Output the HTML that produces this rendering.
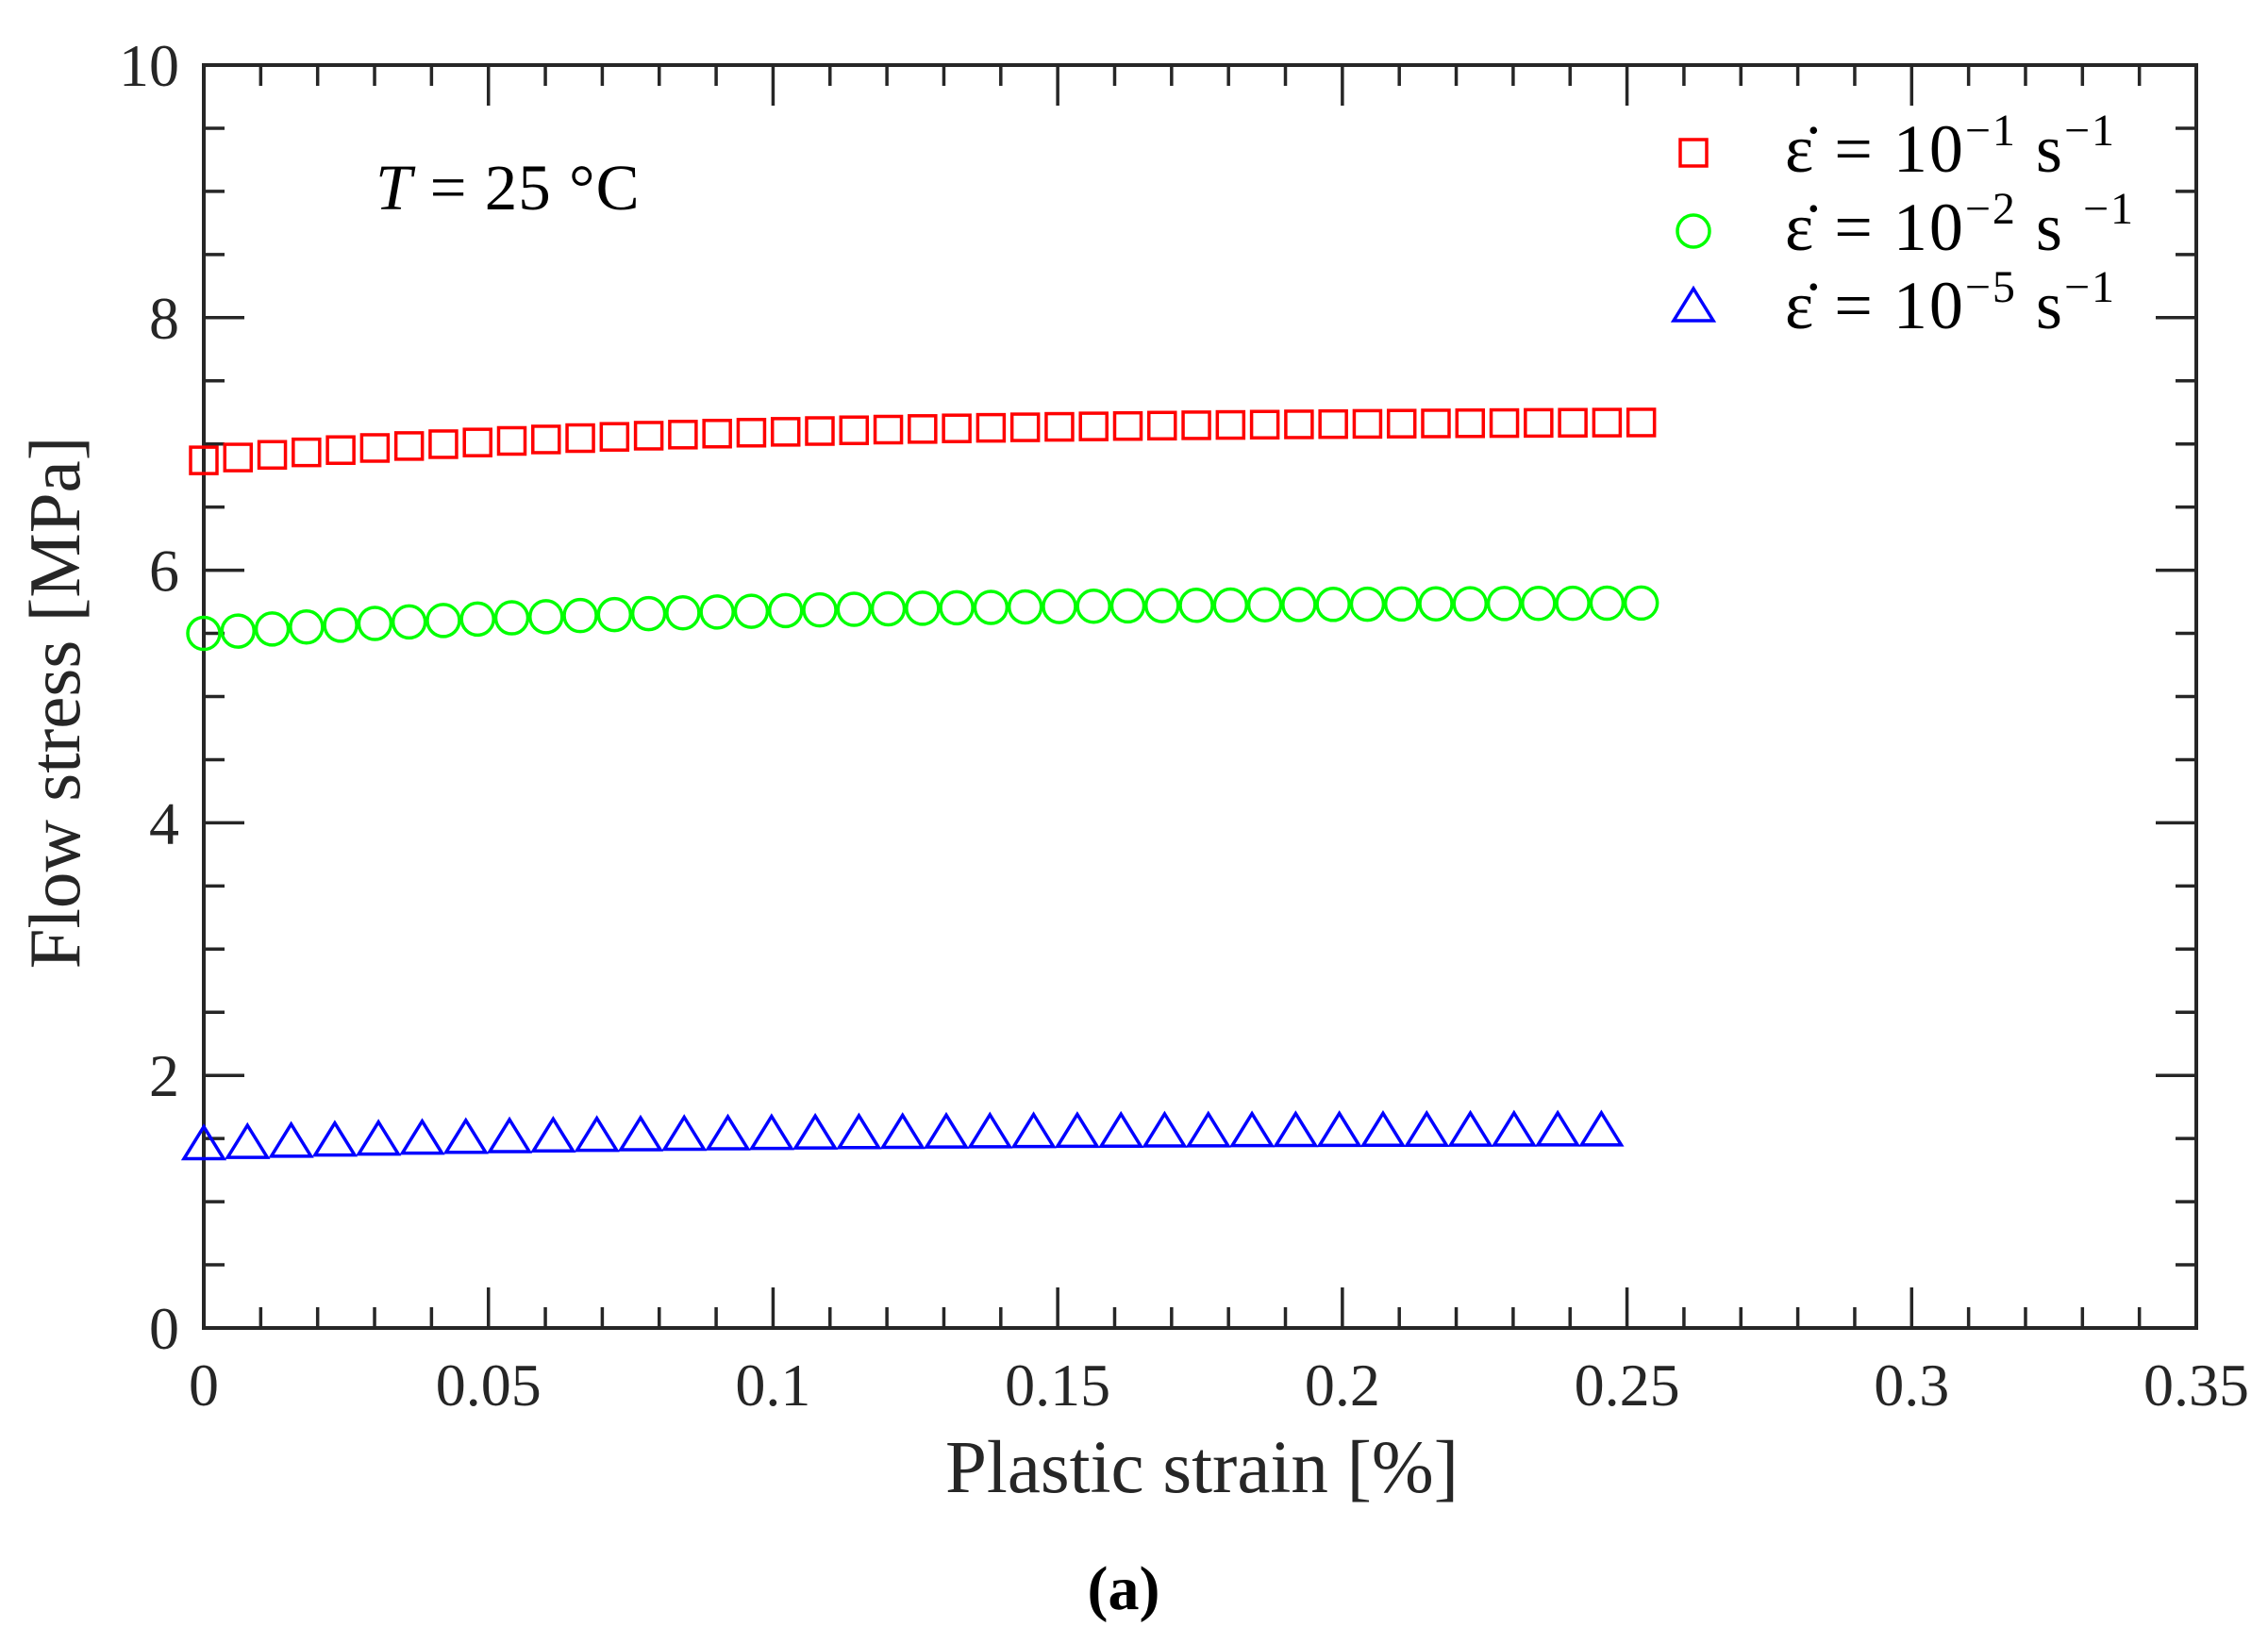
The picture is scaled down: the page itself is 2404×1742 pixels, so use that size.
<!DOCTYPE html>
<html><head><meta charset="utf-8"><style>
html,body{margin:0;padding:0;background:#fff;}
svg{display:block;}
text{font-family:"Liberation Serif",serif;fill:#262626;}
</style></head><body>
<svg id="s" width="2404" height="1742" xmlns="http://www.w3.org/2000/svg">
<g id="g"></g>
<text transform="translate(84 745) rotate(-90)" font-size="77" text-anchor="middle">Flow stress [MPa]</text>
<text x="1274" y="1582" font-size="79" text-anchor="middle">Plastic strain [%]</text>
<text x="1191" y="1706" font-size="66" font-weight="bold" text-anchor="middle" style="fill:#000">(a)</text>
<text x="398" y="222" font-size="69" letter-spacing="1" style="fill:#000"><tspan font-style="italic">T</tspan> = 25 °C</text>
<g font-size="72" style="fill:#000">
<text x="1892" y="182" style="fill:#000" letter-spacing="2">ε̇ = 10<tspan dy="-28" font-size="48">−1</tspan><tspan dy="28"> s</tspan><tspan dy="-28" font-size="48">−1</tspan></text>
<text x="1892" y="265" style="fill:#000" letter-spacing="2">ε̇ = 10<tspan dy="-28" font-size="48">−2</tspan><tspan dy="28"> s </tspan><tspan dy="-28" font-size="48">−1</tspan></text>
<text x="1892" y="348" style="fill:#000" letter-spacing="2">ε̇ = 10<tspan dy="-28" font-size="48">−5</tspan><tspan dy="28"> s</tspan><tspan dy="-28" font-size="48">−1</tspan></text>
</g>
<rect x="1781" y="148" width="28" height="28" fill="none" stroke="#f00" stroke-width="3.5"/>
<ellipse cx="1795" cy="245" rx="17" ry="17" fill="none" stroke="#0f0" stroke-width="3.5"/>
<polygon points="1795,306 1816,340 1774,340" fill="none" stroke="#00f" stroke-width="3.5"/>
</svg>
<script>
var L=216,R=2328,T=69,B=1408;
var X=function(v){return L+(R-L)*v/0.35},Y=function(v){return B-(B-T)*v/10};
var h='';
h+='<rect x="'+L+'" y="'+T+'" width="'+(R-L)+'" height="'+(B-T)+'" fill="none" stroke="#262626" stroke-width="4"/>';
for(var i=0;i<=35;i++){var x=X(i*0.01),len=(i%5==0)?43:22;
 h+='<line x1="'+x+'" y1="'+B+'" x2="'+x+'" y2="'+(B-len)+'" stroke="#262626" stroke-width="3.5"/>';
 h+='<line x1="'+x+'" y1="'+T+'" x2="'+x+'" y2="'+(T+len)+'" stroke="#262626" stroke-width="3.5"/>';
 if(i%5==0){var lab=['0','0.05','0.1','0.15','0.2','0.25','0.3','0.35'][i/5];
 h+='<text x="'+x+'" y="1490" font-size="64" text-anchor="middle">'+lab+'</text>';}}
for(var j=0;j<=20;j++){var y=Y(j*0.5),len=(j%4==0)?43:22;
 h+='<line x1="'+L+'" y1="'+y+'" x2="'+(L+len)+'" y2="'+y+'" stroke="#262626" stroke-width="3.5"/>';
 h+='<line x1="'+R+'" y1="'+y+'" x2="'+(R-len)+'" y2="'+y+'" stroke="#262626" stroke-width="3.5"/>';
 if(j%4==0){h+='<text x="190" y="'+(y+22)+'" font-size="64" text-anchor="end">'+(j/2)+'</text>';}}
function f(a,b,x){return a+b*(1-Math.exp(-x/0.08))/(1-Math.exp(-0.253/0.08));}
for(var k=0;k<=42;k++){var xv=k*0.2525/42,cx=X(xv);
 var ys=Y(f(6.87,0.30,xv)),yc=Y(f(5.50,0.24,xv));
 h+='<rect x="'+(cx-14)+'" y="'+(ys-14)+'" width="28" height="28" fill="none" stroke="#f00" stroke-width="3.5"/>';
 h+='<ellipse cx="'+cx+'" cy="'+yc+'" rx="17" ry="17" fill="none" stroke="#0f0" stroke-width="3.5"/>';}
for(var k=0;k<=32;k++){var xv=k*0.2455/32,cx=X(xv),yt=Y(f(1.43,0.11,xv));
 h+='<polygon points="'+cx+','+(yt-22)+' '+(cx+21)+','+(yt+12)+' '+(cx-21)+','+(yt+12)+'" fill="none" stroke="#00f" stroke-width="3.5"/>';}
document.getElementById('g').innerHTML=h;
</script>
</body></html>
